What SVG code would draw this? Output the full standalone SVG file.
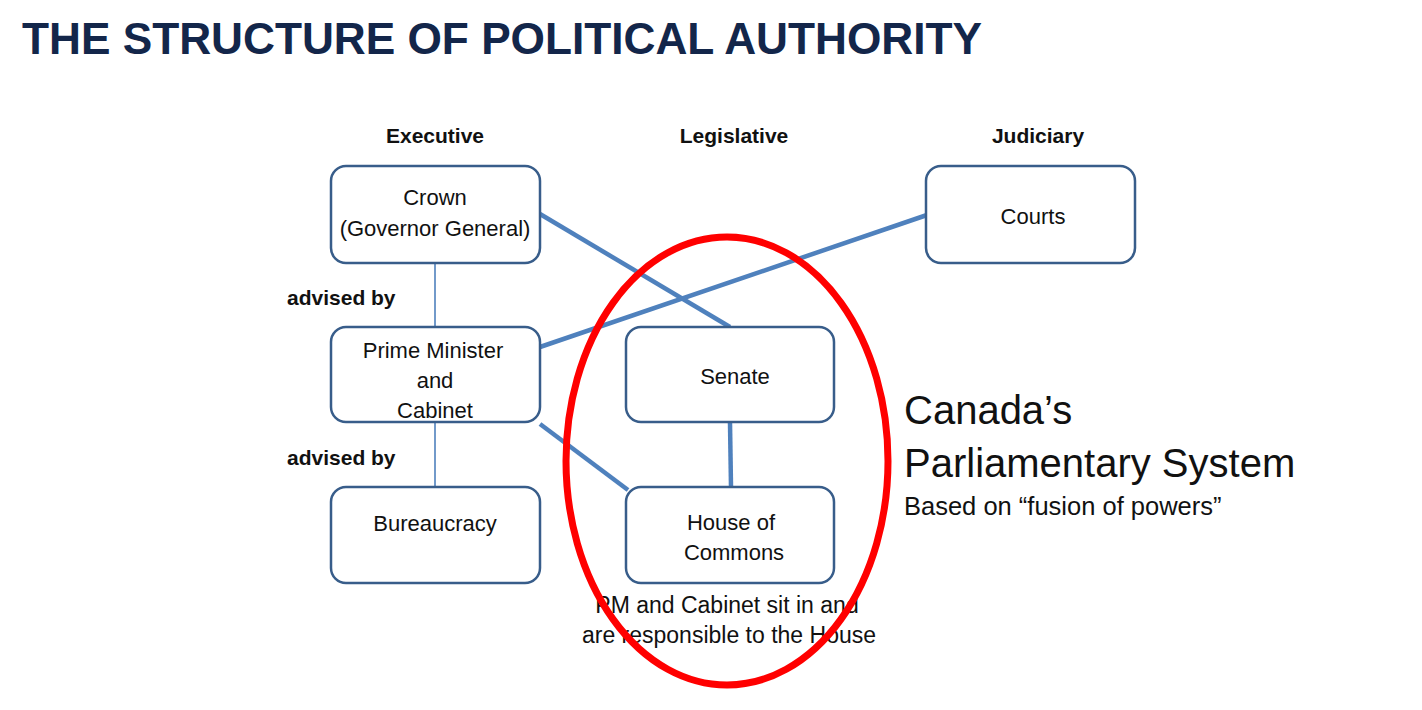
<svg xmlns="http://www.w3.org/2000/svg" width="1422" height="710" viewBox="0 0 1422 710">
<style>
.box{fill:#fff;stroke:#385d8a;stroke-width:2.5}
.t{font-family:"Liberation Sans",Arial,sans-serif;font-size:22px;fill:#111;text-anchor:middle}
.n{font-size:23px}
.b{font-family:"Liberation Sans",Arial,sans-serif;font-size:21px;font-weight:bold;fill:#111}
.thick{stroke:#4f81bd;stroke-width:4.5;fill:none}
.thin{stroke:#4f81bd;stroke-width:1.6;fill:none}
</style>
<rect width="1422" height="710" fill="#fff"/>
<text x="22" y="54" font-family="'Liberation Sans',Arial,sans-serif" font-size="44" font-weight="bold" fill="#13264a" textLength="960" lengthAdjust="spacingAndGlyphs">THE STRUCTURE OF POLITICAL AUTHORITY</text>
<g id="headers">
<text class="b" x="435" y="143" text-anchor="middle">Executive</text>
<text class="b" x="734" y="143" text-anchor="middle">Legislative</text>
<text class="b" x="1038" y="143" text-anchor="middle">Judiciary</text>
<text class="b" x="287" y="305">advised by</text>
<text class="b" x="287" y="465">advised by</text>
</g>
<g id="connectors">
<line class="thin" x1="435" y1="263" x2="435" y2="327"/>
<line class="thin" x1="435" y1="422" x2="435" y2="487"/>
<line class="thick" x1="540" y1="214" x2="730" y2="327"/>
<line class="thick" x1="540" y1="347" x2="927" y2="215"/>
<line class="thick" x1="540" y1="424" x2="628" y2="490"/>
<line class="thick" x1="730" y1="423" x2="731" y2="487"/>
</g>
<g id="crown">
<rect class="box" x="331" y="166" width="209" height="97" rx="15"/>
<text class="t" x="435" y="205">Crown</text>
<text class="t" x="435" y="236">(Governor General)</text>
</g>
<g id="courts">
<rect class="box" x="926" y="166" width="209" height="97" rx="15"/>
<text class="t" x="1033" y="224">Courts</text>
</g>
<g id="pm">
<rect class="box" x="331" y="327" width="209" height="95" rx="15"/>
<text class="t" x="433" y="358">Prime Minister</text>
<text class="t" x="435" y="388">and</text>
<text class="t" x="435" y="418">Cabinet</text>
</g>
<g id="bureaucracy">
<rect class="box" x="331" y="487" width="209" height="96" rx="15"/>
<text class="t" x="435" y="531">Bureaucracy</text>
</g>
<g id="senate">
<rect class="box" x="626" y="327" width="208" height="95" rx="15"/>
<text class="t" x="735" y="384">Senate</text>
</g>
<g id="commons">
<rect class="box" x="626" y="487" width="208" height="96" rx="15"/>
<text class="t" x="731" y="530">House of</text>
<text class="t" x="734" y="560">Commons</text>
</g>
<g id="note">
<text class="t n" x="727" y="613">PM and Cabinet sit in and</text>
<text class="t n" x="729" y="643">are responsible to the House</text>
</g>
<ellipse id="highlight" cx="727" cy="461" rx="161" ry="224" fill="none" stroke="#ff0000" stroke-width="7"/>
<g id="caption" font-family="'Liberation Sans',Arial,sans-serif" fill="#111">
<text x="904" y="424" font-size="40">Canada’s</text>
<text x="904" y="477" font-size="40">Parliamentary System</text>
<text x="904" y="515" font-size="25.5">Based on “fusion of powers”</text>
</g>
</svg>
